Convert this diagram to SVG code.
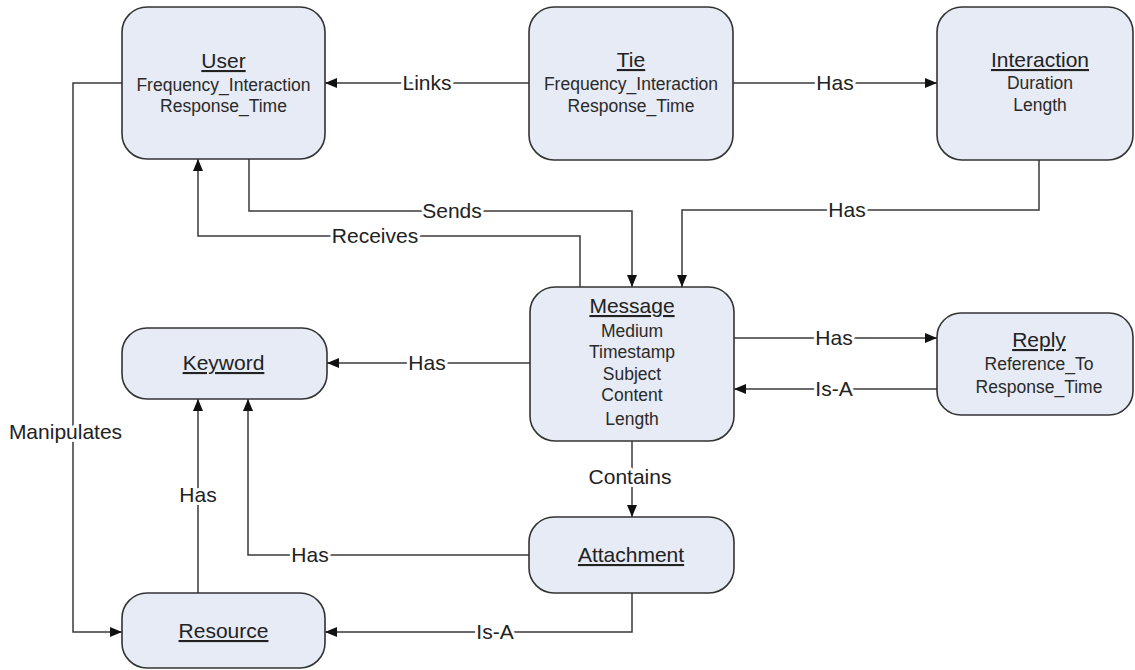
<svg xmlns="http://www.w3.org/2000/svg" width="1135" height="670" viewBox="0 0 1135 670">
  <style>
    .box { fill: #e6ebf5; stroke: #333333; stroke-width: 1.6; }
    .title { font-family: "Liberation Sans", Arial, sans-serif; font-size: 21px; fill: #222222; text-anchor: middle; text-decoration: underline; }
    .attr { font-family: "Liberation Sans", Arial, sans-serif; font-size: 17.5px; fill: #2a2a2a; text-anchor: middle; }
    .edge { fill: none; stroke: #3a3a3a; stroke-width: 1.5; }
    .label { font-family: "Liberation Sans", Arial, sans-serif; font-size: 21px; fill: #222222; text-anchor: middle; stroke: #ffffff; stroke-width: 6; paint-order: stroke; stroke-linejoin: round; }
  </style>
  <defs>
    <marker id="arrow" viewBox="0 0 12 10" refX="12" refY="5" markerWidth="12" markerHeight="10" markerUnits="userSpaceOnUse" orient="auto">
      <path d="M0,0 L12,5 L0,10 Z" fill="#111111"/>
    </marker>
  </defs>
  <rect width="1135" height="670" fill="#ffffff"/>

  <!-- connectors -->
  <g id="connectors">
    <path class="edge" d="M529,83 H325" marker-end="url(#arrow)"/>
    <path class="edge" d="M733,83 H937" marker-end="url(#arrow)"/>
    <path class="edge" d="M122,83 H73 V632 H122" marker-end="url(#arrow)"/>
    <path class="edge" d="M249,159 V211 H632 V287" marker-end="url(#arrow)"/>
    <path class="edge" d="M580,287 V236 H198 V159" marker-end="url(#arrow)"/>
    <path class="edge" d="M1039,160 V210 H682 V287" marker-end="url(#arrow)"/>
    <path class="edge" d="M734,338 H937" marker-end="url(#arrow)"/>
    <path class="edge" d="M937,389 H734" marker-end="url(#arrow)"/>
    <path class="edge" d="M530,363 H327" marker-end="url(#arrow)"/>
    <path class="edge" d="M632,441 V517" marker-end="url(#arrow)"/>
    <path class="edge" d="M529,555 H248 V399" marker-end="url(#arrow)"/>
    <path class="edge" d="M198,593 V399" marker-end="url(#arrow)"/>
    <path class="edge" d="M632,593 V632 H325" marker-end="url(#arrow)"/>

    <text class="label" x="427" y="90">Links</text>
    <text class="label" x="835" y="90">Has</text>
    <text class="label" x="65.5" y="439">Manipulates</text>
    <text class="label" x="452" y="218">Sends</text>
    <text class="label" x="375" y="243">Receives</text>
    <text class="label" x="847" y="217">Has</text>
    <text class="label" x="834" y="345">Has</text>
    <text class="label" x="834" y="396">Is-A</text>
    <text class="label" x="427" y="370">Has</text>
    <text class="label" x="630" y="484">Contains</text>
    <text class="label" x="310" y="562">Has</text>
    <text class="label" x="198" y="502">Has</text>
    <text class="label" x="495" y="639">Is-A</text>
  </g>

  <!-- entities -->
  <g id="user">
    <rect class="box" x="122" y="7" width="203" height="152" rx="25"/>
    <text class="title" x="223.5" y="68">User</text>
    <text class="attr" x="223.5" y="91">Frequency_Interaction</text>
    <text class="attr" x="223.5" y="112">Response_Time</text>
  </g>
  <g id="tie">
    <rect class="box" x="529" y="7" width="204" height="153" rx="25"/>
    <text class="title" x="631" y="67">Tie</text>
    <text class="attr" x="631" y="90">Frequency_Interaction</text>
    <text class="attr" x="631" y="112">Response_Time</text>
  </g>
  <g id="interaction">
    <rect class="box" x="937" y="7" width="196" height="153" rx="25"/>
    <text class="title" x="1040" y="67">Interaction</text>
    <text class="attr" x="1040" y="89">Duration</text>
    <text class="attr" x="1040" y="111">Length</text>
  </g>
  <g id="message">
    <rect class="box" x="530" y="287" width="204" height="154" rx="25"/>
    <text class="title" x="632" y="313">Message</text>
    <text class="attr" x="632" y="337">Medium</text>
    <text class="attr" x="632" y="358">Timestamp</text>
    <text class="attr" x="632" y="380">Subject</text>
    <text class="attr" x="632" y="401">Content</text>
    <text class="attr" x="632" y="425">Length</text>
  </g>
  <g id="reply">
    <rect class="box" x="937" y="313" width="196" height="102" rx="24"/>
    <text class="title" x="1039" y="347">Reply</text>
    <text class="attr" x="1039" y="370">Reference_To</text>
    <text class="attr" x="1039" y="393">Response_Time</text>
  </g>
  <g id="keyword">
    <rect class="box" x="122" y="328" width="205" height="71" rx="25"/>
    <text class="title" x="223.5" y="370">Keyword</text>
  </g>
  <g id="attachment">
    <rect class="box" x="529" y="517" width="205" height="76" rx="25"/>
    <text class="title" x="631" y="562">Attachment</text>
  </g>
  <g id="resource">
    <rect class="box" x="122" y="593" width="203" height="75" rx="25"/>
    <text class="title" x="223.5" y="638">Resource</text>
  </g>
</svg>
